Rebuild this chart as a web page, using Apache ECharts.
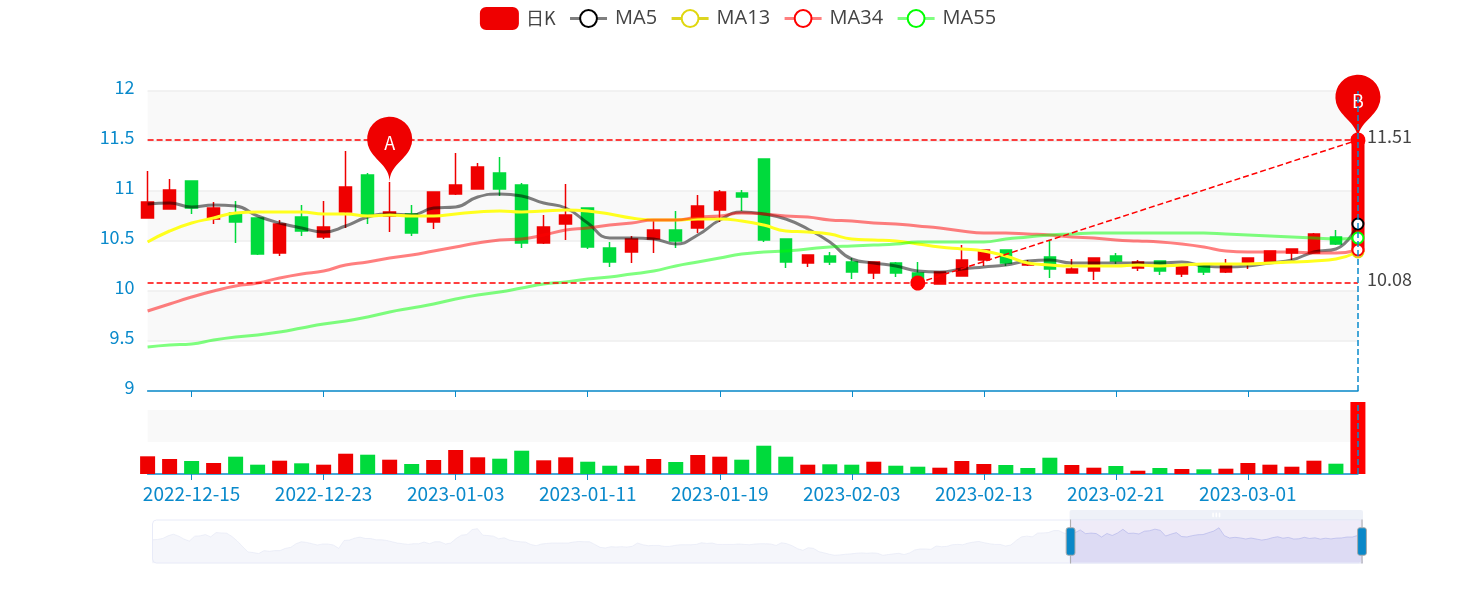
<!DOCTYPE html>
<html>
<head>
<meta charset="utf-8">
<style>
  html, body { margin: 0; padding: 0; background: #fff; }
  #k-lines { width: 1476px; height: 600px; }
</style>
<script src="https://cdn.jsdelivr.net/npm/echarts@6/dist/echarts.min.js"></script>
</head>
<body>
<div id="k-lines"></div>
<script>
  // opens of the sessions before the zoom window, they only feed the slider shadow
  var historyOpen = [
    10.10,10.13,10.23,10.50,10.67,10.47,10.17,9.97,10.47,10.50,10.63,10.40,10.83,10.80,10.77,10.43,9.97,9.40,8.87,8.80,
    8.70,9.00,8.93,9.00,9.00,9.23,9.33,9.70,9.90,9.83,9.70,9.57,9.67,9.67,9.57,9.23,10.03,10.07,10.27,10.37,
    10.23,10.23,10.10,10.10,10.03,9.90,9.77,9.70,9.63,9.70,9.70,9.87,9.70,9.90,9.90,9.67,9.77,10.23,10.57,10.63,
    11.13,11.23,10.57,10.53,10.47,10.20,10.30,10.07,9.97,9.90,9.87,9.63,9.50,9.67,9.73,9.77,9.77,9.77,9.77,9.87,
    9.93,9.90,9.90,9.63,9.33,9.27,9.40,9.37,9.40,9.37,9.43,9.77,9.60,9.50,9.53,9.53,9.43,9.43,9.53,9.60,
    9.60,9.60,9.63,9.80,9.73,9.77,9.63,9.63,9.63,9.63,9.67,9.63,9.60,9.67,9.70,9.70,9.67,9.53,9.80,9.70,
    9.50,9.20,9.03,9.30,9.23,8.90,8.77,8.63,8.53,8.57,8.63,8.67,8.73,8.77,8.73,8.77,8.73,8.53,8.60,8.67,
    8.73,8.60,8.77,9.07,9.17,9.17,9.13,9.47,9.40,9.43,9.60,9.63,9.60,9.77,9.87,9.93,9.80,9.70,9.63,9.63,
    9.47,9.57,10.03,10.40,10.47,10.40,10.77,10.80,10.83,11.03,11.03,10.77
  ];

  var dates = [
    '2022-12-13','2022-12-14','2022-12-15','2022-12-16','2022-12-19','2022-12-20','2022-12-21','2022-12-22',
    '2022-12-23','2022-12-26','2022-12-27','2022-12-28','2022-12-29','2022-12-30','2023-01-03','2023-01-04',
    '2023-01-05','2023-01-06','2023-01-09','2023-01-10','2023-01-11','2023-01-12','2023-01-13','2023-01-16',
    '2023-01-17','2023-01-18','2023-01-19','2023-01-20','2023-01-30','2023-01-31','2023-02-01','2023-02-02',
    '2023-02-03','2023-02-06','2023-02-07','2023-02-08','2023-02-09','2023-02-10','2023-02-13','2023-02-14',
    '2023-02-15','2023-02-16','2023-02-17','2023-02-20','2023-02-21','2023-02-22','2023-02-23','2023-02-24',
    '2023-02-27','2023-02-28','2023-03-01','2023-03-02','2023-03-03','2023-03-06','2023-03-07','2023-03-08'
  ];
  var open = [
    10.73,10.82,11.10,10.72,10.78,10.73,10.38,10.74,10.54,10.79,11.16,10.75,10.77,10.69,10.97,11.02,11.18,11.06,10.48,10.67,
    10.83,10.43,10.39,10.52,10.61,10.63,10.81,10.98,11.32,10.52,10.28,10.35,10.29,10.18,10.28,10.18,10.07,10.15,10.31,10.41,
    10.26,10.34,10.18,10.20,10.35,10.23,10.30,10.17,10.26,10.19,10.27,10.29,10.38,10.38,10.54,10.40
  ];
  var close = [
    10.89,11.01,10.83,10.83,10.69,10.37,10.67,10.60,10.64,11.04,10.76,10.79,10.58,10.99,11.06,11.24,11.02,10.48,10.64,10.76,
    10.44,10.29,10.52,10.61,10.50,10.85,10.99,10.94,10.51,10.29,10.36,10.29,10.19,10.29,10.18,10.08,10.19,10.31,10.41,10.28,
    10.27,10.22,10.22,10.33,10.30,10.29,10.20,10.25,10.19,10.27,10.33,10.40,10.42,10.57,10.47,11.51
  ];
  var low = [
    10.73,10.82,10.77,10.67,10.48,10.36,10.35,10.55,10.52,10.63,10.67,10.59,10.55,10.62,10.96,11.02,10.95,10.43,10.47,10.51,
    10.42,10.24,10.28,10.38,10.43,10.58,10.69,10.80,10.49,10.23,10.24,10.26,10.12,10.12,10.14,10.07,10.07,10.15,10.25,10.25,
    10.25,10.13,10.18,10.11,10.27,10.20,10.16,10.14,10.16,10.18,10.22,10.28,10.31,10.38,10.46,10.38
  ];
  var high = [
    11.20,11.12,11.10,10.89,10.90,10.73,10.71,10.86,10.90,11.40,11.18,11.09,10.86,10.99,11.38,11.28,11.34,11.08,10.76,11.07,
    10.83,10.49,10.55,10.71,10.80,10.96,11.01,11.01,11.32,10.52,10.36,10.39,10.33,10.29,10.29,10.29,10.19,10.46,10.41,10.41,
    10.31,10.51,10.32,10.33,10.38,10.31,10.30,10.25,10.26,10.32,10.33,10.40,10.42,10.58,10.61,11.51
  ];
  var volume = [
    553,469,406,344,541,291,416,334,291,634,603,447,313,438,750,522,478,728,428,522,
    384,259,259,469,375,594,541,447,884,541,291,303,291,384,259,228,197,406,313,281,
    188,509,281,197,250,103,188,156,147,166,344,291,228,416,322,2250
  ];
  var greenVolumeDays = ['2023-02-15'];
  var ma5 = [
    10.87,10.88,10.84,10.86,10.85,10.75,10.68,10.63,10.59,10.65,10.74,10.77,10.76,10.83,10.84,10.94,10.97,10.95,10.88,10.83,
    10.68,10.53,10.53,10.52,10.47,10.56,10.71,10.79,10.77,10.72,10.62,10.49,10.32,10.28,10.25,10.20,10.19,10.22,10.24,10.26,
    10.30,10.31,10.28,10.28,10.28,10.28,10.28,10.29,10.25,10.24,10.25,10.28,10.31,10.39,10.42,10.67
  ];
  var ma13 = [
    10.49,10.60,10.68,10.73,10.78,10.79,10.79,10.79,10.77,10.77,10.75,10.76,10.75,10.75,10.77,10.79,10.80,10.79,10.80,10.81,
    10.80,10.77,10.73,10.71,10.71,10.72,10.72,10.70,10.66,10.60,10.59,10.57,10.52,10.51,10.50,10.47,10.44,10.42,10.40,10.35,
    10.28,10.26,10.25,10.25,10.25,10.26,10.25,10.26,10.27,10.27,10.27,10.28,10.29,10.30,10.32,10.39
  ];
  var ma34 = [
    9.80,9.87,9.94,10.00,10.05,10.08,10.13,10.17,10.20,10.26,10.29,10.33,10.36,10.40,10.44,10.48,10.51,10.52,10.56,10.61,
    10.63,10.66,10.68,10.71,10.71,10.74,10.75,10.78,10.77,10.75,10.74,10.71,10.70,10.68,10.67,10.65,10.63,10.60,10.58,10.58,
    10.57,10.56,10.54,10.53,10.51,10.50,10.49,10.47,10.44,10.40,10.39,10.39,10.39,10.38,10.38,10.41
  ];
  var ma55 = [
    9.44,9.46,9.47,9.51,9.54,9.56,9.59,9.63,9.67,9.70,9.74,9.79,9.83,9.87,9.92,9.96,9.99,10.03,10.07,10.09,
    10.12,10.14,10.17,10.20,10.25,10.29,10.33,10.37,10.39,10.40,10.42,10.44,10.45,10.46,10.47,10.49,10.49,10.49,10.49,10.52,
    10.54,10.56,10.57,10.58,10.58,10.58,10.58,10.58,10.58,10.57,10.56,10.55,10.54,10.53,10.52,10.53
  ];
  var yLabels = ['9','9.5','10','10.5','11','11.5','12'];

  var upColor = '#ef0000';
  var downColor = '#00da3c';
  var hoverVolumeColor = '#ff0000';
  var axisColor = '#0a8acb';
  var fontName = '"Noto Sans CJK SC", "Open Sans", sans-serif';

  // history first, then the 56 sessions in the window
  var pad = historyOpen.length;
  var lastIndex = pad + dates.length - 1;
  var lastDate = dates[dates.length - 1];
  var categoryData = [];
  var kData = [];
  var volData = [];
  var blanks = [];
  historyOpen.forEach(function (o, i) {
    categoryData.push('h' + i);
    kData.push([o, o, o, o]);
    volData.push('-');
    blanks.push('-');
  });
  dates.forEach(function (d, i) {
    var isUp = close[i] >= open[i] && greenVolumeDays.indexOf(d) < 0;
    var barColor = isUp ? upColor : downColor;
    if (d === lastDate) barColor = hoverVolumeColor;
    categoryData.push(d);
    kData.push([open[i], close[i], low[i], high[i]]);
    volData.push({
      value: volume[i],
      itemStyle: { color: barColor }
    });
  });

  function maSeries(name, values, color, lineColor, lineOpacity) {
    return {
      name: name,
      type: 'line',
      data: blanks.concat(values),
      smooth: true,
      showSymbol: false,
      symbol: 'emptyCircle',
      symbolSize: 10,
      itemStyle: { color: color, borderWidth: 3 },
      lineStyle: { width: 3, color: lineColor || color, opacity: lineOpacity || 0.5 }
    };
  }

  function legendLine(name, lineColor) {
    var item = { name: name, itemStyle: { borderWidth: 3 }, lineStyle: { width: 3 } };
    if (lineColor) item.lineStyle.color = lineColor;
    return item;
  }

  var option = {
    animation: false,
    textStyle: { fontFamily: fontName },
    tooltip: {
      trigger: 'axis',
      showContent: false,
      axisPointer: {
        type: 'line',
        lineStyle: { color: axisColor, type: 'dashed', width: 1.5 },
        label: { show: false }
      }
    },
    legend: {
      top: 2,
      left: 'center',
      itemWidth: 37,
      itemHeight: 21,
      itemGap: 13,
      textStyle: { fontSize: 20, color: '#444', fontFamily: '"Open Sans", sans-serif', padding: [0, 0, 0, 3] },
      data: [
        { name: '日K', textStyle: { fontSize: 18, fontFamily: fontName } },
        legendLine('MA5'),
        legendLine('MA13', '#ddd520'),
        legendLine('MA34'),
        legendLine('MA55')
      ]
    },
    grid: [
      { left: '10%', right: '8%', top: 91, height: 300 },
      { left: '10%', right: '8%', top: '67%', height: '12%' }
    ],
    xAxis: [
      {
        type: 'category',
        data: categoryData,
        boundaryGap: false,
        axisLine: { onZero: false, lineStyle: { color: axisColor, width: 1.5 } },
        axisTick: { show: true, length: 6, interval: 5, lineStyle: { color: axisColor } },
        axisLabel: { show: false, interval: 5 },
        splitLine: { show: false }
      },
      {
        type: 'category',
        gridIndex: 1,
        data: categoryData,
        boundaryGap: false,
        axisLine: { onZero: false, lineStyle: { color: axisColor, width: 1.5 } },
        axisTick: { show: true, length: 6, interval: 5, lineStyle: { color: axisColor } },
        axisLabel: { show: true, interval: 5, color: axisColor, fontSize: 19, margin: 10 },
        splitLine: { show: false }
      }
    ],
    yAxis: [
      {
        min: 9,
        max: 12,
        interval: 0.5,
        axisLine: { show: false },
        axisTick: { show: false },
        axisLabel: {
          color: axisColor,
          fontSize: 18,
          margin: 13,
          verticalAlign: 'bottom',
          lineHeight: 8,
          formatter: function (v) { return yLabels[Math.round((v - 9) * 2)]; }
        },
        splitLine: { lineStyle: { color: '#eeeeee', width: 1.5 } },
        splitArea: { show: true, areaStyle: { color: ['#ffffff', '#f9f9f9'] } }
      },
      {
        gridIndex: 1,
        min: 0,
        max: 2250,
        interval: 1000,
        axisLine: { show: false },
        axisTick: { show: false },
        axisLabel: { show: false },
        splitLine: { show: false },
        splitArea: { show: true, areaStyle: { color: ['#ffffff', '#f9f9f9'] } }
      }
    ],
    dataZoom: [
      { type: 'inside', xAxisIndex: [0, 1], startValue: pad, endValue: lastIndex },
      {
        type: 'slider',
        show: true,
        xAxisIndex: [0, 1],
        startValue: pad,
        endValue: lastIndex,
        left: 148,
        width: 1211,
        top: 510,
        height: 44,
        moveHandleSize: 10,
        showDetail: false,
        borderColor: '#e8ebf8',
        borderRadius: 4,
        fillerColor: 'rgba(120,90,200,0.12)',
        handleStyle: { color: '#0a88c8', borderColor: '#aaaaaa' },
        moveHandleStyle: { color: '#dde3f1' },
        dataBackground: {
          lineStyle: { color: '#dfe3f3', opacity: 1 },
          areaStyle: { color: '#f5f6fb', opacity: 1 }
        },
        selectedDataBackground: {
          lineStyle: { color: '#a9b3ea', opacity: 1 },
          areaStyle: { color: 'rgba(149,160,228,0.2)', opacity: 1 }
        }
      }
    ],
    series: [
      {
        name: '日K',
        type: 'candlestick',
        data: kData,
        barWidth: 12,
        clip: false,
        itemStyle: {
          color: upColor,
          color0: downColor,
          borderColor: upColor,
          borderColor0: downColor,
          borderColorDoji: upColor,
          borderWidth: 1.5
        },
        markPoint: {
          symbol: 'pin',
          symbolSize: 75,
          itemStyle: { color: upColor },
          label: { color: '#fff', fontSize: 18, formatter: '{b}' },
          data: [
            { name: 'A', coord: [pad + 11, 11.09] },
            { name: 'B', coord: [lastIndex, 11.51] }
          ]
        },
        markLine: {
          symbol: ['none', 'none'],
          lineStyle: { color: '#ff0000', type: 'dashed', width: 1.5 },
          label: {
            color: '#444',
            fontSize: 18,
            position: 'end',
            distance: 9,
            verticalAlign: 'bottom',
            lineHeight: 8,
            formatter: '{c}'
          },
          data: [
            [
              { type: 'min', valueDim: 'close', symbol: 'circle', symbolSize: 15, label: { show: false } },
              { type: 'max', valueDim: 'close', symbol: 'circle', symbolSize: 15, label: { show: false } }
            ],
            { name: 'min line on close', type: 'min', valueDim: 'close' },
            { name: 'max line on close', type: 'max', valueDim: 'close' }
          ]
        }
      },
      maSeries('MA5', ma5, '#000000'),
      maSeries('MA13', ma13, '#e0d70f', '#f2e81c', 1),
      maSeries('MA34', ma34, '#ff0000'),
      maSeries('MA55', ma55, '#00ff00'),
      {
        name: 'Volume',
        type: 'bar',
        xAxisIndex: 1,
        yAxisIndex: 1,
        barWidth: 15,
        clip: false,
        data: volData,
        // hover line of the lower grid
        markLine: {
          silent: true,
          symbol: ['none', 'none'],
          label: { show: false },
          lineStyle: { color: axisColor, type: 'dashed', width: 1.5 },
          data: [{ xAxis: lastDate }]
        }
      }
    ]
  };

  var myChart = echarts.init(document.getElementById('k-lines'));
  myChart.setOption(option);
  myChart.dispatchAction({ type: 'showTip', seriesIndex: 0, dataIndex: lastIndex });
</script>
</body>
</html>
